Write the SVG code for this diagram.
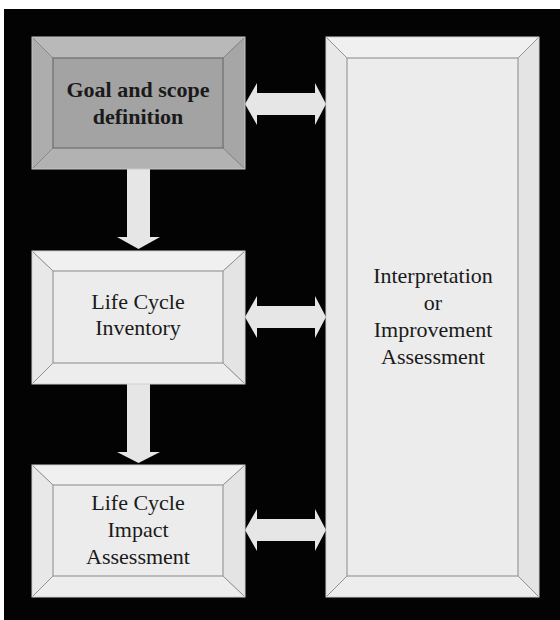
<svg xmlns="http://www.w3.org/2000/svg" width="560" height="620" viewBox="0 0 560 620">
  <style>
    .txt { font-family: "Liberation Serif", "Times New Roman", serif; font-size: 22px; fill: #1a1a1a; text-anchor: middle; }
    .bold { font-weight: bold; }
    .g-top { fill: #b9b9b9; }
    .g-left { fill: #adadad; }
    .g-right { fill: #a6a6a6; }
    .g-bot { fill: #b2b2b2; }
    .g-face { fill: #a3a3a3; stroke: #6e6e6e; stroke-width: 1.2; }
    .g-out { fill: none; stroke: #c8c8c8; stroke-width: 1; }
    .w-top { fill: #f0f0f0; }
    .w-left { fill: #e8e8e8; }
    .w-right { fill: #e4e4e4; }
    .w-bot { fill: #ededed; }
    .w-face { fill: #ececec; stroke: #9a9a9a; stroke-width: 1.2; }
    .w-out { fill: none; stroke: #d0d0d0; stroke-width: 1; }
    .diag { stroke: #8c8c8c; stroke-width: 0.8; }
    .arrow { fill: #e6e6e6; }
  </style>
  <rect x="0" y="0" width="560" height="620" fill="#ffffff"/>
  <rect x="4" y="9" width="556" height="611" fill="#030303"/>

  <g id="connectors">
    <path class="arrow" d="M127,169 L150,169 L150,237 L160,237 L138.5,249 L117,237 L127,237 Z"/>
    <path class="arrow" d="M127,384 L150,384 L150,452 L160,452 L138.5,463 L117,452 L127,452 Z"/>
    <path class="arrow" d="M245,104 L257,83 L257,93 L315,93 L315,83 L326,104 L315,125 L315,115 L257,115 L257,125 Z"/>
    <path class="arrow" d="M245,317 L257,296 L257,306 L315,306 L315,296 L326,317 L315,338 L315,328 L257,328 L257,338 Z"/>
    <path class="arrow" d="M245,530 L257,509 L257,519 L315,519 L315,509 L326,530 L315,551 L315,541 L257,541 L257,551 Z"/>
  </g>

  <g id="goal">
    <polygon class="g-top" points="32,37 245,37 223,58 53,58"/>
    <polygon class="g-left" points="32,37 53,58 53,148 32,169"/>
    <polygon class="g-right" points="245,37 245,169 223,148 223,58"/>
    <polygon class="g-bot" points="32,169 53,148 223,148 245,169"/>
    <line class="diag" x1="32" y1="37" x2="53" y2="58"/>
    <line class="diag" x1="245" y1="37" x2="223" y2="58"/>
    <line class="diag" x1="32" y1="169" x2="53" y2="148"/>
    <line class="diag" x1="245" y1="169" x2="223" y2="148"/>
    <rect class="g-out" x="32" y="37" width="213" height="132"/>
    <rect class="g-face" x="53" y="58" width="170" height="90"/>
    <text class="txt bold" x="138" y="97">Goal and scope</text>
    <text class="txt bold" x="138" y="124">definition</text>
  </g>

  <g id="inventory">
    <polygon class="w-top" points="32,251 245,251 223,271 53,271"/>
    <polygon class="w-left" points="32,251 53,271 53,363 32,384"/>
    <polygon class="w-right" points="245,251 245,384 223,363 223,271"/>
    <polygon class="w-bot" points="32,384 53,363 223,363 245,384"/>
    <line class="diag" x1="32" y1="251" x2="53" y2="271"/>
    <line class="diag" x1="245" y1="251" x2="223" y2="271"/>
    <line class="diag" x1="32" y1="384" x2="53" y2="363"/>
    <line class="diag" x1="245" y1="384" x2="223" y2="363"/>
    <rect class="w-out" x="32" y="251" width="213" height="133"/>
    <rect class="w-face" x="53" y="271" width="170" height="92"/>
    <text class="txt" x="138" y="309">Life Cycle</text>
    <text class="txt" x="138" y="335">Inventory</text>
  </g>

  <g id="impact">
    <polygon class="w-top" points="32,465 245,465 223,485 53,485"/>
    <polygon class="w-left" points="32,465 53,485 53,576 32,597"/>
    <polygon class="w-right" points="245,465 245,597 223,576 223,485"/>
    <polygon class="w-bot" points="32,597 53,576 223,576 245,597"/>
    <line class="diag" x1="32" y1="465" x2="53" y2="485"/>
    <line class="diag" x1="245" y1="465" x2="223" y2="485"/>
    <line class="diag" x1="32" y1="597" x2="53" y2="576"/>
    <line class="diag" x1="245" y1="597" x2="223" y2="576"/>
    <rect class="w-out" x="32" y="465" width="213" height="132"/>
    <rect class="w-face" x="53" y="485" width="170" height="91"/>
    <text class="txt" x="138" y="510">Life Cycle</text>
    <text class="txt" x="138" y="537">Impact</text>
    <text class="txt" x="138" y="564">Assessment</text>
  </g>

  <g id="interpretation">
    <polygon class="w-top" points="326,37 539,37 518,58 347,58"/>
    <polygon class="w-left" points="326,37 347,58 347,576 326,597"/>
    <polygon class="w-right" points="539,37 539,597 518,576 518,58"/>
    <polygon class="w-bot" points="326,597 347,576 518,576 539,597"/>
    <line class="diag" x1="326" y1="37" x2="347" y2="58"/>
    <line class="diag" x1="539" y1="37" x2="518" y2="58"/>
    <line class="diag" x1="326" y1="597" x2="347" y2="576"/>
    <line class="diag" x1="539" y1="597" x2="518" y2="576"/>
    <rect class="w-out" x="326" y="37" width="213" height="560"/>
    <rect class="w-face" x="347" y="58" width="171" height="518"/>
    <text class="txt" x="433" y="283">Interpretation</text>
    <text class="txt" x="433" y="310">or</text>
    <text class="txt" x="433" y="337">Improvement</text>
    <text class="txt" x="433" y="364">Assessment</text>
  </g>
</svg>
